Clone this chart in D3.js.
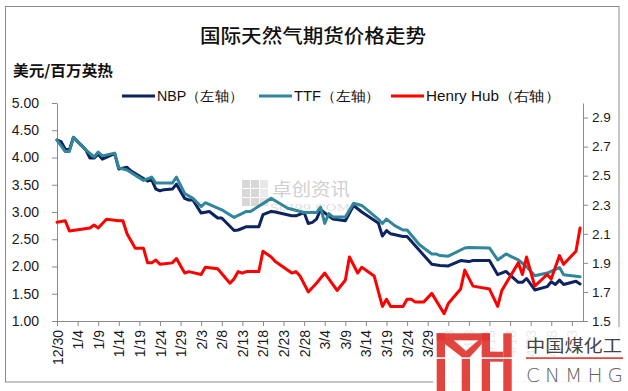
<!DOCTYPE html>
<html><head><meta charset="utf-8">
<script src="https://cdn.jsdelivr.net/npm/d3@7/dist/d3.min.js"></script>
<style>body{margin:0;background:#fff}svg{display:block}</style>
</head><body><svg id="c" width="628" height="391"></svg>
<script>
// ---------------- data ----------------
const chartTitle = "国际天然气期货价格走势";
const unitLabel = "美元/百万英热";
const seriesNames = ["NBP（左轴）", "TTF（左轴）", "Henry Hub（右轴）"];
const seriesColors = ["#0c2360", "#31869b", "#ff0000"];

const tickLabels = ["12/30","1/4","1/9","1/14","1/19","1/24","1/29","2/3","2/8","2/13","2/18","2/23","2/28",
  "3/4","3/9","3/14","3/19","3/24","3/29","4/3","4/8","4/13","4/18","4/23","4/28","5/3"];
const leftTicks = [1.00,1.50,2.00,2.50,3.00,3.50,4.00,4.50,5.00];
const rightTicks = [1.5,1.7,1.9,2.1,2.3,2.5,2.7,2.9];

const nbpDates = ["12/30","12/31","1/1","1/2","1/3","1/6","1/7","1/8","1/9","1/10","1/13","1/14","1/16","1/17",
  "1/21","1/22","1/23","1/24","1/25","1/27","1/28","1/30","1/31","2/1","2/3","2/5","2/7","2/8","2/11","2/12",
  "2/14","2/17","2/18","2/20","2/21","2/25","2/26","2/28","2/29","3/1","3/2","3/3","3/6","3/9","3/11","3/13",
  "3/17","3/18","3/19","3/20","3/23","3/24","3/30","4/1","4/3","4/6","4/8","4/9","4/13","4/15","4/17","4/20",
  "4/21","4/22","4/24","4/27","4/28","4/29","4/30","5/1","5/4","5/5"];
const nbpValues = [4.32,4.29,4.15,4.14,4.37,4.14,3.99,3.99,4.06,3.97,4.07,3.79,3.82,3.75,
  3.57,3.59,3.42,3.39,3.41,3.42,3.51,3.25,3.22,3.22,2.98,3.01,2.89,2.89,2.66,2.67,
  2.73,2.73,2.95,3.01,3.00,2.93,2.93,2.99,2.79,2.81,2.87,3.04,2.87,2.84,3.12,3.00,
  2.80,2.56,2.66,2.60,2.55,2.55,2.04,2.02,2.01,2.11,2.09,2.11,2.11,1.85,1.91,1.71,
  1.71,1.78,1.57,1.63,1.72,1.67,1.75,1.67,1.73,1.68];

const ttfDates = ["12/30","1/1","1/2","1/3","1/6","1/8","1/9","1/10","1/13","1/14","1/16","1/20","1/22","1/23",
  "1/27","1/28","1/30","2/1","2/3","2/4","2/8","2/11","2/14","2/15","2/20","2/22","2/24","2/25","2/28","3/2",
  "3/3","3/4","3/5","3/6","3/9","3/11","3/13","3/17","3/18","3/19","3/21","3/23","3/24","3/27","3/30","3/31",
  "4/1","4/3","4/7","4/8","4/13","4/15","4/17","4/20","4/22","4/24","4/27","4/30","5/1","5/2","5/5"];
const ttfValues = [4.32,4.11,4.11,4.37,4.14,4.01,4.10,4.03,4.08,3.81,3.77,3.58,3.64,3.53,
  3.53,3.64,3.34,3.25,3.10,3.17,3.04,2.90,3.01,3.01,3.25,3.16,3.07,3.05,2.99,2.99,
  3.09,2.79,2.97,2.91,2.91,3.16,3.12,2.87,2.79,2.87,2.75,2.67,2.67,2.40,2.23,2.23,
  2.20,2.19,2.34,2.35,2.34,2.12,2.23,2.12,2.00,1.83,1.88,1.98,1.85,1.84,1.81];

const hhDates = ["12/30","1/1","1/2","1/7","1/8","1/9","1/11","1/14","1/15","1/16","1/17","1/18","1/20","1/21",
  "1/22","1/23","1/24","1/27","1/28","1/30","1/31","2/3","2/4","2/7","2/10","2/11","2/12","2/13","2/14","2/17",
  "2/18","2/20","2/21","2/25","2/26","2/27","2/29","3/2","3/4","3/7","3/9","3/10","3/12","3/13","3/16","3/18",
  "3/19","3/20","3/23","3/24","3/25","3/26","3/28","3/30","4/2","4/3","4/6","4/7","4/9","4/13","4/15","4/16",
  "4/20","4/21","4/22","4/24","4/27","4/28","4/30","5/1","5/4","5/5"];
const hhValues = [2.18,2.19,2.12,2.14,2.16,2.14,2.20,2.19,2.19,2.10,2.05,2.00,2.00,1.90,
  1.90,1.92,1.89,1.90,1.93,1.83,1.84,1.82,1.87,1.86,1.76,1.79,1.84,1.83,1.84,1.84,
  1.98,1.94,1.91,1.83,1.84,1.81,1.70,1.76,1.83,1.71,1.78,1.94,1.83,1.87,1.81,1.60,
  1.65,1.60,1.60,1.65,1.65,1.63,1.63,1.69,1.55,1.62,1.72,1.85,1.74,1.72,1.60,1.71,
  1.90,1.82,1.94,1.74,1.82,1.79,1.95,1.89,1.98,2.14];

// ---------------- helpers ----------------
function parseMD(s) {
  const [m, d] = s.split("/").map(Number);
  return new Date(Date.UTC(m === 12 ? 2019 : 2020, m - 1, d));
}
const zip = (ds, vs) => ds.map((d, i) => ({ date: parseMD(d), v: vs[i] }));

const svg = d3.select("#c");
const L = 57, R = 583, T = 103, B = 321;
const axisColor = "#8a8a8a";
const labelFont = "'Liberation Sans', Arial, sans-serif";
const cjkFont = "'Noto Sans CJK SC', 'Noto Sans', sans-serif";

const x = d3.scaleUtc()
  .domain([parseMD("12/30"), new Date(Date.UTC(2020, 4, 5, 17))])
  .range([L, R]);
const yL = d3.scaleLinear().domain([1, 5]).range([B, T]);
const yR = d3.scaleLinear().domain([1.5, 3.0]).range([B, T]);

// outer border
svg.append("rect").attr("x", 5.5).attr("y", 6.5).attr("width", 613.5).attr("height", 375.5)
  .attr("fill", "none").attr("stroke", "#8c8c8c").attr("stroke-width", 1);

// title
svg.append("text").attr("x", 313).attr("y", 43).attr("text-anchor", "middle")
  .attr("font-family", cjkFont).attr("font-size", 19).attr("font-weight", 500).attr("fill", "#111")
  .attr("textLength", 226).attr("lengthAdjust", "spacingAndGlyphs")
  .text(chartTitle);

// unit label
svg.append("text").attr("x", 13).attr("y", 76)
  .attr("font-family", cjkFont).attr("font-size", 15).attr("font-weight", "bold").attr("fill", "#111")
  .attr("textLength", 100).attr("lengthAdjust", "spacingAndGlyphs")
  .text(unitLabel);

// watermark (卓创资讯)
const wm = svg.append("g").attr("opacity", 0.55);
const sq = [[0,0,1],[9,0,1],[0,9,1],[9,9,1],[0,18,1],[9,18,1],[18,0,0.6],[18,9,0.5],[18,18,0.7]];
sq.forEach(([dx, dy, o]) => wm.append("rect").attr("x", 242 + dx).attr("y", 180 + dy)
  .attr("width", 8).attr("height", 8).attr("fill", "#b8b8b8").attr("opacity", o));
wm.append("text").attr("x", 272).attr("y", 196).attr("font-family", cjkFont).attr("font-size", 18)
  .attr("fill", "#aaaaaa").attr("textLength", 78).attr("lengthAdjust", "spacingAndGlyphs").text("卓创资讯");
wm.append("text").attr("x", 270).attr("y", 211).attr("font-family", "'DejaVu Serif', serif").attr("font-size", 9)
  .attr("fill", "#c4c4c4").attr("textLength", 80).attr("lengthAdjust", "spacingAndGlyphs").text("SCI99.COM");

// axes
function styleAxis(g) {
  g.select(".domain").attr("stroke", axisColor);
  g.selectAll(".tick line").attr("stroke", axisColor);
  g.selectAll(".tick text").attr("fill", "#1a1a1a").attr("font-family", labelFont).attr("font-size", 13.5);
}
svg.append("g").attr("transform", `translate(${L},0)`)
  .call(d3.axisLeft(yL).tickValues(leftTicks).tickFormat(d3.format(".2f")).tickSize(5).tickSizeOuter(0).tickPadding(13))
  .call(styleAxis)
  .selectAll(".tick text").attr("font-size", 14);

svg.append("g").attr("transform", `translate(${R},0)`)
  .call(d3.axisRight(yR).tickValues(rightTicks).tickFormat(d3.format(".1f")).tickSize(5).tickSizeOuter(0).tickPadding(4))
  .call(styleAxis);

const tickDates = tickLabels.map(parseMD);
const gX = svg.append("g").attr("transform", `translate(0,${B})`)
  .call(d3.axisBottom(x).tickValues(tickDates).tickFormat((d, i) => tickLabels[i]).tickSize(5).tickSizeOuter(0))
  .call(styleAxis);
gX.selectAll(".tick text").attr("transform", "rotate(-90)").attr("text-anchor", "end")
  .attr("x", -9).attr("y", 0).attr("dy", "0.36em").attr("font-size", 14);

// lines
const lineL = d3.line().x(d => x(d.date)).y(d => yL(d.v));
const lineR = d3.line().x(d => x(d.date)).y(d => yR(d.v));
const seriesData = [zip(nbpDates, nbpValues), zip(ttfDates, ttfValues), zip(hhDates, hhValues)];
[0, 1].forEach(i => svg.append("path").datum(seriesData[i]).attr("d", lineL)
  .attr("fill", "none").attr("stroke", seriesColors[i]).attr("stroke-width", 3)
  .attr("stroke-linejoin", "round").attr("stroke-linecap", "round"));
svg.append("path").datum(seriesData[2]).attr("d", lineR)
  .attr("fill", "none").attr("stroke", seriesColors[2]).attr("stroke-width", 3)
  .attr("stroke-linejoin", "round").attr("stroke-linecap", "round");

// legend
const legendX = [122, 259, 391];
const legendLen = [86, 86, 134];
seriesNames.forEach((n, i) => {
  svg.append("line").attr("x1", legendX[i]).attr("x2", legendX[i] + 33).attr("y1", 96).attr("y2", 96)
    .attr("stroke", seriesColors[i]).attr("stroke-width", 3);
  svg.append("text").attr("x", legendX[i] + 35).attr("y", 101)
    .attr("font-family", labelFont).attr("font-size", 14).attr("fill", "#111")
    .attr("textLength", legendLen[i]).attr("lengthAdjust", "spacingAndGlyphs").text(n);
});

// CNMHG logo overlay (bottom right)
const lg = svg.append("g");
lg.append("rect").attr("x", 433).attr("y", 327).attr("width", 195).attr("height", 64)
  .attr("fill", "#fff").attr("opacity", 0.9);
const red = "#e0342f";
const rects = [[436.7,333.3,8.3,58],[436.7,333.3,53.3,7],[481.7,333.3,8.3,58],[461.7,356.7,8.3,35],
  [490,351.7,13.3,10],[503.3,333.3,8.4,58]];
rects.forEach(([rx, ry, w, h]) => lg.append("rect").attr("x", rx).attr("y", ry).attr("width", w).attr("height", h)
  .attr("fill", red).attr("opacity", 0.92));
lg.append("polygon").attr("points", "445,340 453.5,340 466,351 478.5,340 481.7,340 481.7,344 470,357 461.7,357 445,344")
  .attr("fill", red).attr("opacity", 0.92);
lg.append("rect").attr("x", 436).attr("y", 357.3).attr("width", 77).attr("height", 1.6).attr("fill", "#fff");
lg.append("text").attr("x", 526).attr("y", 352).attr("font-family", cjkFont).attr("font-size", 17)
  .attr("fill", "#444").attr("textLength", 96).attr("lengthAdjust", "spacingAndGlyphs").text("中国煤化工");
lg.append("rect").attr("x", 526).attr("y", 357.3).attr("width", 97).attr("height", 1.6).attr("fill", red);
lg.append("text").attr("x", 526).attr("y", 382).attr("font-family", "'DejaVu Sans', sans-serif").attr("font-size", 20)
  .attr("font-weight", 300).attr("fill", "#666").attr("textLength", 97).attr("lengthAdjust", "spacing").text("CNMHG");
</script></body></html>
